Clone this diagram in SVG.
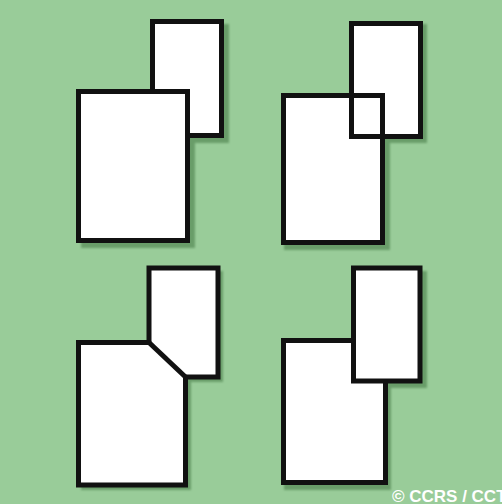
<svg xmlns="http://www.w3.org/2000/svg" width="502" height="504" viewBox="0 0 502 504">
<style>
.box{fill:#ffffff;stroke:#111111;stroke-width:5;stroke-linejoin:miter}
.fill{fill:#ffffff;stroke:none}
.line{fill:none;stroke:#111111;stroke-width:5;stroke-linejoin:miter}
.sh{fill:#699d69;filter:url(#blur)}
.credit{font-family:"Liberation Sans",Arial,sans-serif;font-size:17px;font-weight:bold;fill:#ffffff}
</style>
<defs>
<filter id="blur" x="-10%" y="-10%" width="120%" height="120%"><feGaussianBlur stdDeviation="0.8"/></filter>
</defs>
<rect width="502" height="504" fill="#99cc99"/>
<g id="panel1">
<rect class="sh" x="155" y="24" width="74" height="119"/>
<rect class="sh" x="81" y="94" width="114" height="154"/>
<rect class="box" x="152.5" y="21.5" width="69" height="114"/>
<rect class="box" x="78.5" y="91.5" width="109" height="149"/>
</g>
<g id="panel2">
<rect class="sh" x="352" y="24" width="75" height="119"/>
<rect class="sh" x="284" y="96" width="106" height="154"/>
<rect class="fill" x="351.5" y="23.5" width="69" height="113"/>
<rect class="fill" x="283.5" y="95.5" width="99" height="147"/>
<rect class="line" x="351.5" y="23.5" width="69" height="113"/>
<rect class="line" x="283.5" y="95.5" width="99" height="147"/>
</g>
<g id="panel3">
<path class="sh" d="M81,490 V348 H152 V271 H223 V382 H191 V490 Z"/>
<path class="fill" d="M78.5,485 V342.5 H149 V268 H218 V377 H185.5 V485 Z"/>
<path class="line" d="M78.5,485 V342.5 H149 V268 H218 V377 H185.5 V485 Z"/>
<path class="line" d="M149,342.5 L185.5,377"/>
</g>
<g id="panel4">
<rect class="sh" x="284" y="343" width="107" height="147"/>
<rect class="sh" x="356" y="271" width="71" height="117"/>
<rect class="box" x="283.5" y="340.5" width="102" height="142"/>
<rect class="box" x="353.5" y="268" width="66.5" height="113"/>
</g>
<text class="credit" x="392" y="502">© CCRS / CCT</text>
</svg>
